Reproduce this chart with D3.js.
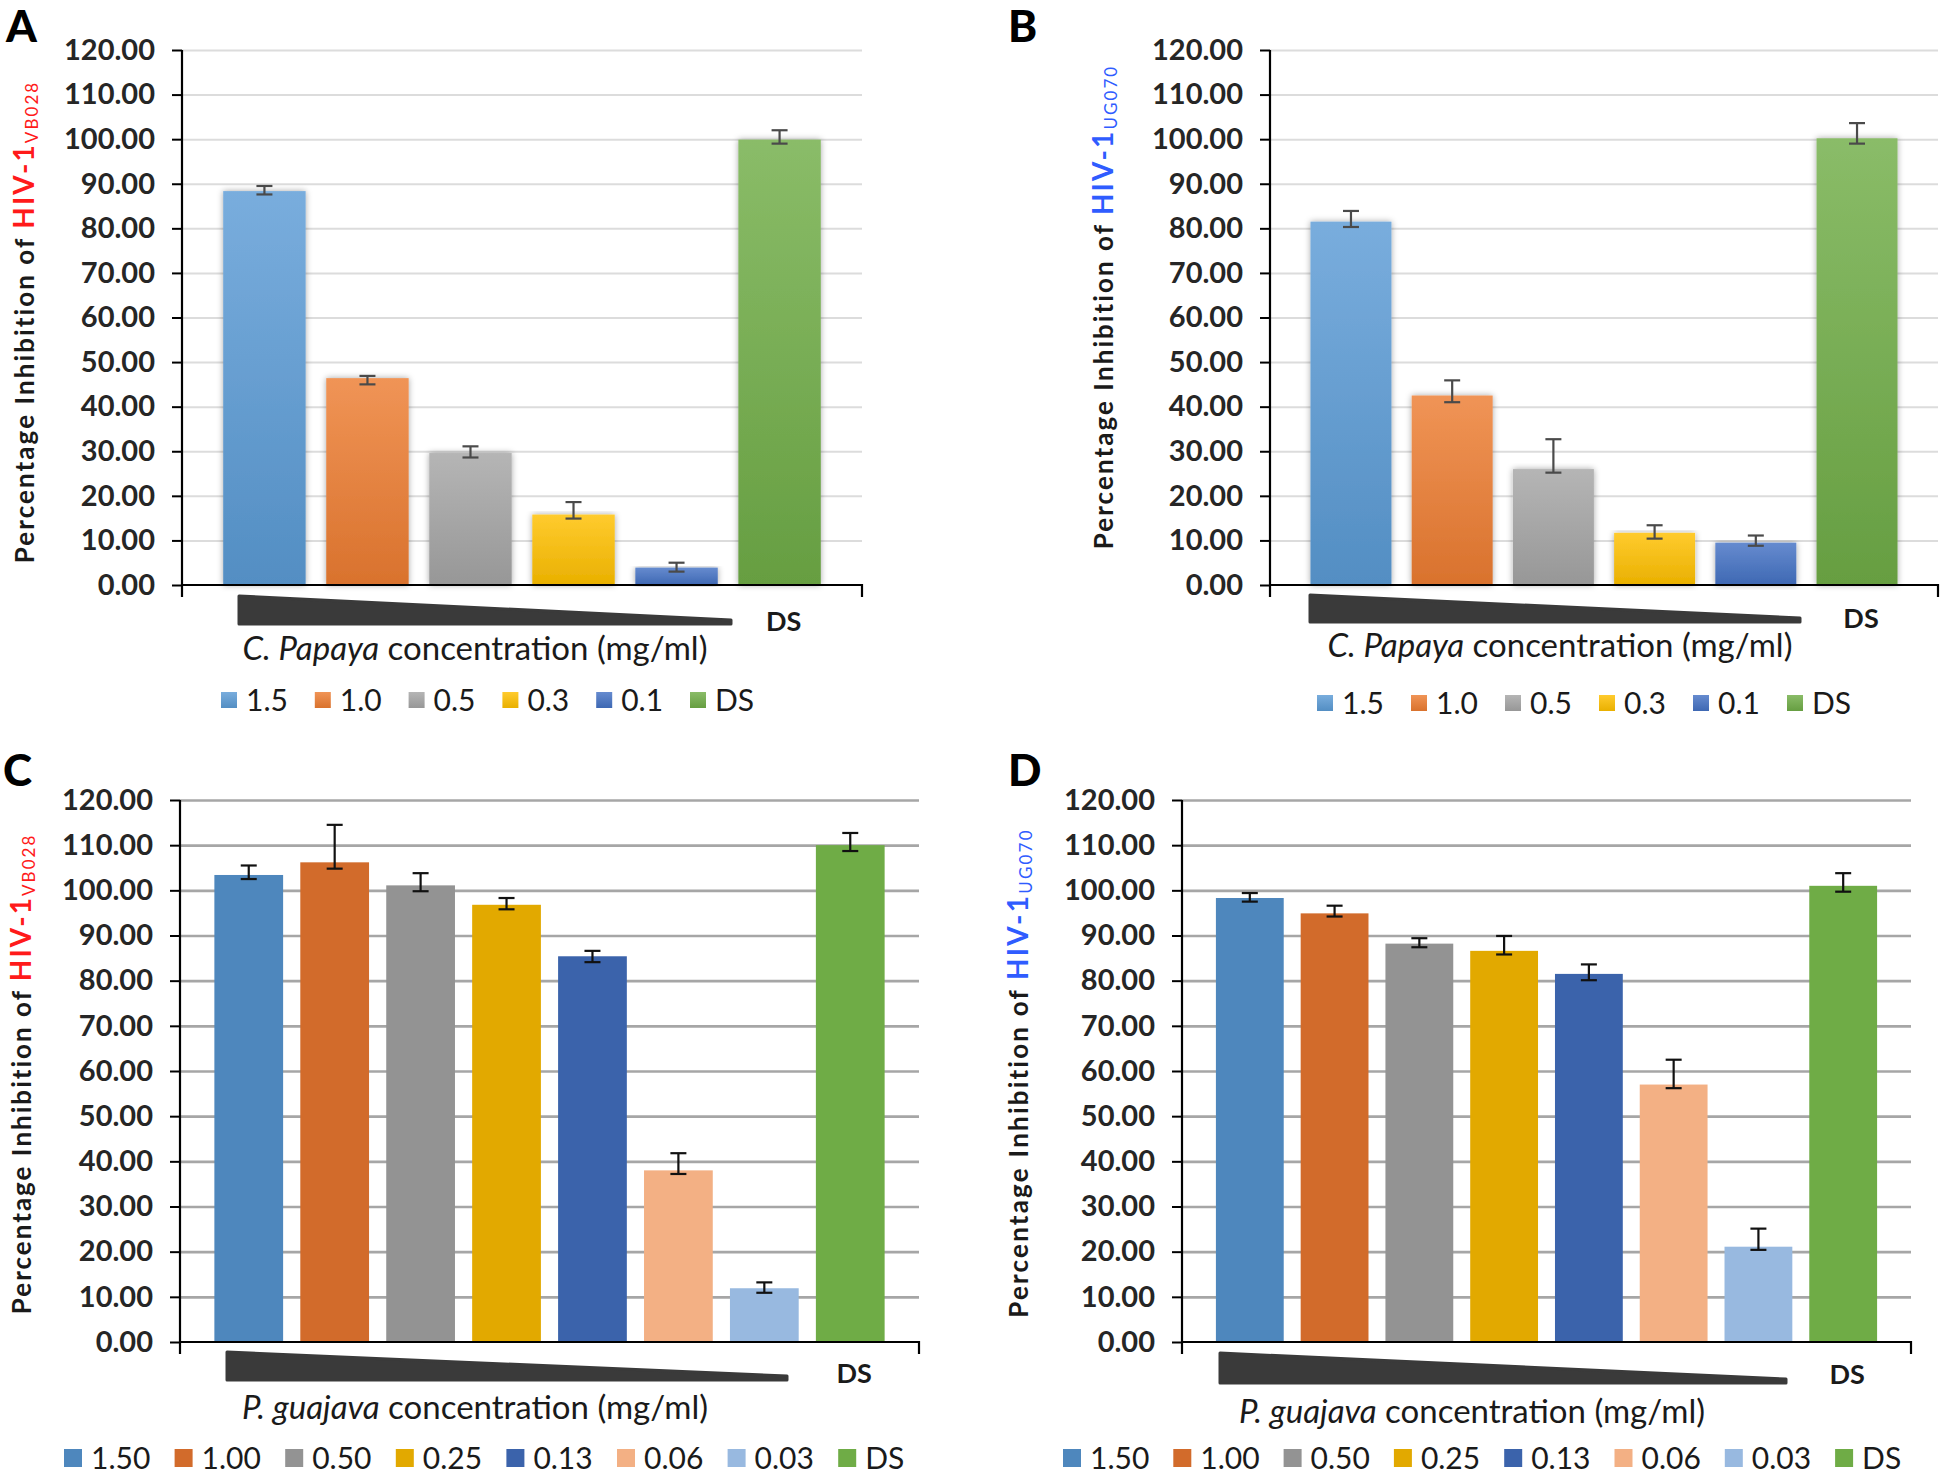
<!DOCTYPE html>
<html>
<head>
<meta charset="utf-8">
<script src="https://cdn.jsdelivr.net/npm/d3@7"></script>
<style>
  html, body { margin: 0; padding: 0; background: #fff; }
  svg text { font-family: Lato, "Open Sans", "DejaVu Sans", sans-serif; }
</style>
</head>
<body>
<svg id="chart" width="1944" height="1474"></svg>
<script>
// ---------------- DATA ----------------
const catsPapaya = ["1.5", "1.0", "0.5", "0.3", "0.1", "DS"];
const colorsPapaya = ["#5b9bd5", "#ed7d31", "#a5a5a5", "#ffc000", "#4472c4", "#70ad47"];

const valuesA = [88.35, 46.4, 29.6, 15.8, 3.9, 99.9];
const errHiA  = [89.5, 46.9, 31.1, 18.6, 5.0, 102.0];
const errLoA  = [87.6, 45.0, 28.6, 14.9, 3.0, 99.0];

const valuesB = [81.5, 42.5, 26.0, 11.7, 9.5, 100.2];
const errHiB  = [83.9, 45.9, 32.7, 13.4, 11.1, 103.6];
const errLoB  = [80.3, 41.0, 25.2, 10.4, 8.8, 99.0];

const catsGuajava = ["1.50", "1.00", "0.50", "0.25", "0.13", "0.06", "0.03", "DS"];
const colorsGuajava = ["#4e87bd", "#d26b2b", "#939393", "#e2a900", "#3b63ab", "#f3b084", "#98b9e0", "#6fac46"];

const valuesC = [103.4, 106.2, 101.1, 96.8, 85.4, 38.0, 11.9, 110.0];
const errHiC  = [105.5, 114.5, 103.8, 98.3, 86.6, 41.8, 13.2, 112.7];
const errLoC  = [102.5, 104.8, 99.8, 95.8, 84.1, 37.2, 10.9, 108.7];

const valuesD = [98.3, 94.9, 88.2, 86.6, 81.5, 57.0, 21.1, 101.0];
const errHiD  = [99.4, 96.6, 89.4, 89.9, 83.6, 62.5, 25.1, 103.8];
const errLoD  = [97.5, 94.2, 87.4, 85.8, 80.1, 56.2, 20.4, 99.7];

const yTicks = [0, 10, 20, 30, 40, 50, 60, 70, 80, 90, 100, 110, 120];

// ---------------- LAYOUT ----------------
const panels = [
  { letter: "A", lx: 6, ly: 42,
    cats: catsPapaya, colors: colorsPapaya, values: valuesA, hi: errHiA, lo: errLoA,
    x0: 182, x1: 862, yTop: 50, yBot: 585, style: "excel2013",
    strain: "VB028", strainColor: "#ff1a1a",
    titleX: 25, titleY: 322, titleLen: 483,
    wedge: [239, 731, 596, 624], dsY: 631,
    xTitleX: 475, xTitleY: 660, species: "C. Papaya",
    legY: 700, legX: 221, legStep: 93.8, legSize: 16, legFont: 30 },
  { letter: "B", lx: 1008, ly: 42,
    cats: catsPapaya, colors: colorsPapaya, values: valuesB, hi: errHiB, lo: errLoB,
    x0: 1270, x1: 1938, yTop: 50, yBot: 585, style: "excel2013",
    strain: "UG070", strainColor: "#2f5cff",
    titleX: 1104, titleY: 307, titleLen: 485,
    wedge: [1310, 1800, 595, 622], dsY: 628,
    xTitleX: 1560, xTitleY: 657, species: "C. Papaya",
    legY: 703, legX: 1317, legStep: 94, legSize: 16, legFont: 30 },
  { letter: "C", lx: 3, ly: 786,
    cats: catsGuajava, colors: colorsGuajava, values: valuesC, hi: errHiC, lo: errLoC,
    x0: 180, x1: 919, yTop: 800, yBot: 1342, style: "flat",
    strain: "VB028", strainColor: "#ff1a1a",
    titleX: 22, titleY: 1074, titleLen: 481,
    wedge: [227, 787, 1352, 1380], dsY: 1383,
    xTitleX: 475, xTitleY: 1419, species: "P. guajava",
    legY: 1458, legX: 64, legStep: 110.6, legSize: 18, legFont: 30 },
  { letter: "D", lx: 1008, ly: 786,
    cats: catsGuajava, colors: colorsGuajava, values: valuesD, hi: errHiD, lo: errLoD,
    x0: 1182, x1: 1911, yTop: 800, yBot: 1342, style: "flat",
    strain: "UG070", strainColor: "#2f5cff",
    titleX: 1019, titleY: 1073, titleLen: 490,
    wedge: [1220, 1786, 1353, 1383], dsY: 1384,
    xTitleX: 1472, xTitleY: 1423, species: "P. guajava",
    legY: 1458, legX: 1063, legStep: 110.3, legSize: 18, legFont: 30 }
];

const svg = d3.select("#chart");
const defs = svg.append("defs");

// soft drop shadow for the 2013-style bars
const shadow = defs.append("filter").attr("id", "barShadow")
  .attr("x", "-20%").attr("y", "-5%").attr("width", "140%").attr("height", "115%");
shadow.append("feDropShadow").attr("dx", 0).attr("dy", 0).attr("stdDeviation", 3)
  .attr("flood-color", "#000").attr("flood-opacity", 0.35);

// gradients
colorsPapaya.forEach((c, i) => {
  const g = defs.append("linearGradient").attr("id", "grad" + i)
    .attr("x1", 0).attr("y1", 0).attr("x2", 0).attr("y2", 1);
  g.append("stop").attr("offset", "0%").attr("stop-color", d3.interpolateRgb(c, "#ffffff")(0.18));
  g.append("stop").attr("offset", "100%").attr("stop-color", d3.color(c).darker(0.25).formatHex());
});

function squeeze(sel, ratio) {
  sel.each(function () {
    const len = this.getComputedTextLength();
    d3.select(this).attr("textLength", len * ratio).attr("lengthAdjust", "spacingAndGlyphs");
  });
}

panels.forEach(p => {
  const g = svg.append("g");
  const x = d3.scaleBand().domain(p.cats).range([p.x0, p.x1])
    .paddingInner(0.2).paddingOuter(0.4);
  const y = d3.scaleLinear().domain([0, 120]).range([p.yBot, p.yTop]);
  const flat = p.style === "flat";

  // gridlines
  g.append("g").attr("transform", `translate(${p.x0},0)`)
    .call(d3.axisLeft(y).tickValues(yTicks.filter(t => t > 0)).tickSize(-(p.x1 - p.x0)).tickFormat(""))
    .call(a => a.select(".domain").remove())
    .selectAll("line").attr("stroke", flat ? "#a6a6a6" : "#dcdcdc").attr("stroke-width", flat ? 2.6 : 2);

  // bars
  g.append("g").selectAll("rect").data(p.values).join("rect")
    .attr("x", (d, i) => x(p.cats[i]))
    .attr("width", x.bandwidth())
    .attr("y", d => y(d))
    .attr("height", d => y(0) - y(d))
    .attr("fill", (d, i) => flat ? p.colors[i] : `url(#grad${i})`)
    .attr("filter", flat ? null : "url(#barShadow)");

  // error bars
  const eg = g.append("g").attr("stroke", flat ? "#111" : "#4a4a4a").attr("stroke-width", 2.2);
  const cap = 8;
  p.values.forEach((v, i) => {
    const cx = x(p.cats[i]) + x.bandwidth() / 2;
    eg.append("line").attr("x1", cx).attr("x2", cx).attr("y1", y(p.hi[i])).attr("y2", y(p.lo[i]));
    eg.append("line").attr("x1", cx - cap).attr("x2", cx + cap).attr("y1", y(p.hi[i])).attr("y2", y(p.hi[i]));
    eg.append("line").attr("x1", cx - cap).attr("x2", cx + cap).attr("y1", y(p.lo[i])).attr("y2", y(p.lo[i]));
  });

  // y axis
  const ya = g.append("g").attr("transform", `translate(${p.x0},0)`)
    .call(d3.axisLeft(y).tickValues(yTicks).tickFormat(d3.format(".2f")).tickSize(10).tickPadding(17));
  ya.select(".domain").remove();
  ya.selectAll("line").attr("stroke", "#000").attr("stroke-width", 2);
  ya.selectAll("text").attr("font-size", 29).attr("font-weight", 700).attr("fill", "#262626")
    .attr("font-family", "Lato, sans-serif");
  g.append("line").attr("x1", p.x0).attr("x2", p.x0).attr("y1", p.yTop).attr("y2", p.yBot + 12)
    .attr("stroke", "#000").attr("stroke-width", 2.2);

  // x axis line
  g.append("path")
    .attr("d", `M${p.x0},${p.yBot}H${p.x1}V${p.yBot + 12}`)
    .attr("fill", "none").attr("stroke", "#000").attr("stroke-width", 2.2);

  // concentration wedge
  const [wl, wr, wt, wb] = p.wedge;
  g.append("path")
    .attr("d", `M${wl},${wt}L${wr},${wb - 4}L${wr},${wb}L${wl},${wb}Z`)
    .attr("fill", "#3a3a3a").attr("stroke", "#3a3a3a").attr("stroke-width", 3)
    .attr("stroke-linejoin", "round");

  // DS label under the DS bar
  const dsCat = p.cats[p.cats.length - 1];
  g.append("text").attr("x", x(dsCat) + x.bandwidth() / 2 + 4).attr("y", p.dsY)
    .attr("text-anchor", "middle").attr("font-size", 27).attr("font-weight", 700).attr("fill", "#1a1a1a")
    .text(dsCat);

  // x title
  const xt = g.append("text").attr("x", p.xTitleX).attr("y", p.xTitleY)
    .attr("text-anchor", "middle").attr("font-size", 33).attr("fill", "#1a1a1a");
  xt.append("tspan").attr("font-style", "italic").text(p.species);
  xt.append("tspan").text(" concentration (mg/ml)");

  // y title
  const yt = g.append("text")
    .attr("transform", `translate(${p.titleX},${p.titleY}) rotate(-90)`)
    .attr("text-anchor", "middle").attr("dy", "0.35em")
    .attr("font-size", 26).attr("font-weight", 700).attr("fill", "#1a1a1a");
  yt.append("tspan").text("Percentage Inhibition of ");
  yt.append("tspan").attr("fill", p.strainColor).attr("font-size", 28).text("HIV-1");
  yt.append("tspan").attr("fill", p.strainColor).attr("font-size", 17).attr("font-weight", 400)
    .attr("baseline-shift", "-25%").text(p.strain);
  const len = yt.node().getComputedTextLength();
  const nChars = ("Percentage Inhibition of HIV-1" + p.strain).length;
  const ls = (p.titleLen - len) / nChars;
  if (ls > 0) yt.attr("letter-spacing", ls);
  else squeeze(yt, p.titleLen / len);

  // legend
  const lg = g.append("g");
  p.cats.forEach((c, i) => {
    const lx = p.legX + i * p.legStep;
    lg.append("rect").attr("x", lx).attr("y", p.legY - p.legSize / 2)
      .attr("width", p.legSize).attr("height", p.legSize)
      .attr("fill", flat ? p.colors[i] : `url(#grad${i})`);
    lg.append("text").attr("x", lx + p.legSize + 9).attr("y", p.legY).attr("dy", "0.36em")
      .attr("font-size", p.legFont).attr("fill", "#1a1a1a").text(c);
  });

  // panel letter
  svg.append("text").attr("x", p.lx).attr("y", p.ly)
    .attr("font-size", 44).attr("font-weight", 900).attr("fill", "#000").text(p.letter);
});
</script>
</body>
</html>
